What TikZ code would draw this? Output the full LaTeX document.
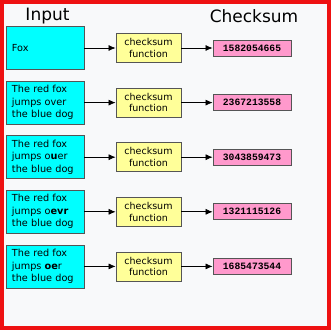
\documentclass[tikz,border=0pt]{standalone}
\usepackage{fontspec}
\setmainfont{DejaVu Sans}
\setmonofont{Liberation Mono}
\usepackage{tikz}
\usetikzlibrary{arrows.meta}

\definecolor{inputcol}{HTML}{00FFFF}
\definecolor{funccol}{HTML}{FFFF99}
\definecolor{sumcol}{HTML}{FF99CC}
\definecolor{edgecol}{HTML}{555555}
\definecolor{pagecol}{HTML}{F8F9FA}
\definecolor{framecol}{HTML}{EE1111}

\tikzset{
  inbox/.style={draw=edgecol, line width=0.8pt, fill=inputcol, text width=66pt, inner xsep=6pt,
    inner ysep=0pt, minimum height=43pt, align=left, font=\fontsize{9.7}{12.5}\selectfont},
  funbox/.style={draw=edgecol, line width=0.8pt, fill=funccol, minimum width=65pt, minimum height=29pt,
    inner sep=0pt, align=center, font=\fontsize{9.5}{11.7}\selectfont},
  sumbox/.style={draw=edgecol, line width=0.8pt, fill=sumcol, minimum width=78pt, minimum height=16pt,
    inner sep=0pt, font=\ttfamily\bfseries\fontsize{9.7}{10}\selectfont},
  title/.style={font=\fontsize{17}{18}\selectfont},
  arr/.style={-{Latex[length=7pt,width=6pt]}, line width=0.7pt}
}

\begin{document}
\begin{tikzpicture}[x=1pt, y=-1pt]
\useasboundingbox (0,0) rectangle (331,330);
\fill[pagecol] (0,0) rectangle (331,330);
\draw[framecol, line width=4pt] (2,1.8) rectangle (328.5,328);

\node[title] (tin) at (47.5,16.5) {Input};
\node[title] (tsum) at (254,16.5) {Checksum};

\node[inbox] (in1) at (45,48) {Fox};
\node[inbox] (in2) at (45,102.6) {The red fox\\jumps over\\the blue dog};
\node[inbox] (in3) at (45,157.2) {The red fox\\jumps o\textbf{u}er\\the blue dog};
\node[inbox] (in4) at (45,211.8) {The red fox\\jumps o\textbf{evr}\\the blue dog};
\node[inbox] (in5) at (45,266.4) {The red fox\\jumps \textbf{oe}r\\the blue dog};

\node[funbox] (fn1) at (148.5,48) {checksum\\function};
\node[funbox] (fn2) at (148.5,102.6) {checksum\\function};
\node[funbox] (fn3) at (148.5,157.2) {checksum\\function};
\node[funbox] (fn4) at (148.5,211.8) {checksum\\function};
\node[funbox] (fn5) at (148.5,266.4) {checksum\\function};

\node[sumbox] (out1) at (252,48) {1582054665};
\node[sumbox] (out2) at (252,102.6) {2367213558};
\node[sumbox] (out3) at (252,157.2) {3043859473};
\node[sumbox] (out4) at (252,211.8) {1321115126};
\node[sumbox] (out5) at (252,266.4) {1685473544};

% input -> function -> checksum
\draw[arr] (in1) -- (fn1);
\draw[arr] (in2) -- (fn2);
\draw[arr] (in3) -- (fn3);
\draw[arr] (in4) -- (fn4);
\draw[arr] (in5) -- (fn5);

\draw[arr] (fn1) -- (out1);
\draw[arr] (fn2) -- (out2);
\draw[arr] (fn3) -- (out3);
\draw[arr] (fn4) -- (out4);
\draw[arr] (fn5) -- (out5);

\end{tikzpicture}
\end{document}
